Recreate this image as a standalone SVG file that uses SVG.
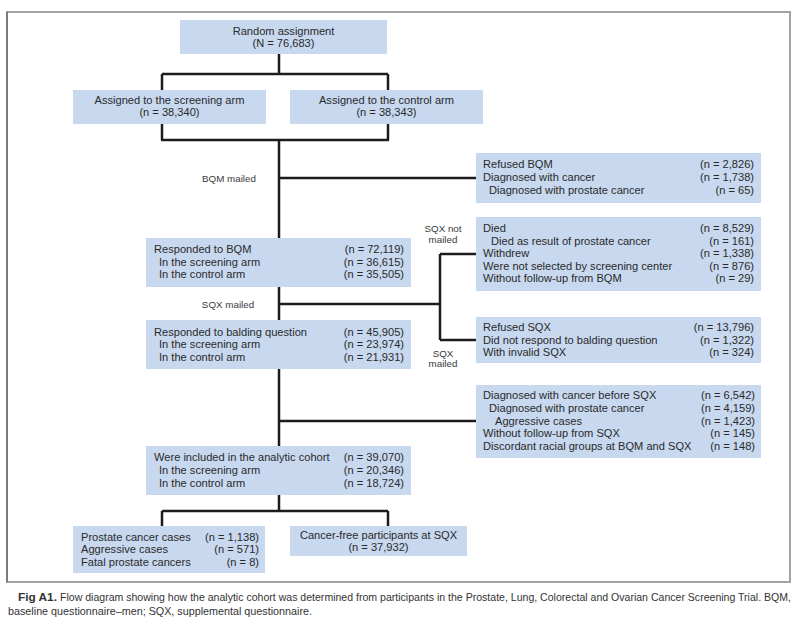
<svg xmlns="http://www.w3.org/2000/svg" width="806" height="626" viewBox="0 0 806 626">
<style>
.box{fill:#c7d8ef}
.t{font-family:"Liberation Sans",Arial,sans-serif;font-size:11.1px;fill:#2a2a2a}
.m{text-anchor:middle}
.e{text-anchor:end}
.lbl{font-family:"Liberation Sans",Arial,sans-serif;font-size:9.8px;fill:#3a3a3a;text-anchor:middle}
.ln{stroke:#1c1c1c;stroke-width:2.5;fill:none}
.cap{font-family:"Liberation Sans",Arial,sans-serif;font-size:10.5px;fill:#333}
</style>
<rect x="0" y="0" width="806" height="626" fill="#fff"/>
<rect x="7" y="12" width="783" height="570" fill="none" stroke="#a3a3a3" stroke-width="2"/>
<line x1="7" y1="12" x2="7" y2="582" stroke="#555" stroke-width="1"/>

<g id="connectors">
<path class="ln" d="M279 54V74M162 74H388M162 74V90M388 74V90"/>
<path class="ln" d="M162 124V140M388 124V140M161 140H389M279 140V238M279 178H476"/>
<path class="ln" d="M279 287V320M279 304H440M440 254V340M440 254H476M440 340H476"/>
<path class="ln" d="M279 369V446M279 421H476"/>
<path class="ln" d="M279 495V511M162 511H388M162 511V526M388 511V526"/>
</g>

<g id="random">
<rect class="box" x="180" y="20" width="207" height="34"/>
<text class="t m" x="283.5" y="35">Random assignment</text>
<text class="t m" x="283.5" y="47">(N = 76,683)</text>
</g>

<g id="screening">
<rect class="box" x="73" y="90" width="193" height="34"/>
<text class="t m" x="169.5" y="104">Assigned to the screening arm</text>
<text class="t m" x="169.5" y="116">(n = 38,340)</text>
</g>

<g id="control">
<rect class="box" x="290" y="90" width="193" height="34"/>
<text class="t m" x="386.5" y="104">Assigned to the control arm</text>
<text class="t m" x="386.5" y="116">(n = 38,343)</text>
</g>

<g id="lbl-bqm">
<text class="lbl" x="229" y="182">BQM mailed</text>
</g>

<g id="refused-bqm">
<rect class="box" x="476" y="153" width="285" height="50"/>
<text class="t" x="483" y="168">Refused BQM</text>
<text class="t" x="483" y="181">Diagnosed with cancer</text>
<text class="t" x="489" y="194">Diagnosed with prostate cancer</text>
<text class="t e" x="754" y="168">(n = 2,826)</text>
<text class="t e" x="754" y="181">(n = 1,738)</text>
<text class="t e" x="754" y="194">(n = 65)</text>
</g>

<g id="lbl-sqx-not">
<text class="lbl" x="443" y="232">SQX not</text>
<text class="lbl" x="443" y="243">mailed</text>
</g>

<g id="died">
<rect class="box" x="476" y="217" width="285" height="74"/>
<text class="t" x="483" y="232">Died</text>
<text class="t" x="491" y="245">Died as result of prostate cancer</text>
<text class="t" x="483" y="257">Withdrew</text>
<text class="t" x="483" y="270">Were not selected by screening center</text>
<text class="t" x="483" y="282">Without follow-up from BQM</text>
<text class="t e" x="754" y="232">(n = 8,529)</text>
<text class="t e" x="754" y="245">(n = 161)</text>
<text class="t e" x="754" y="257">(n = 1,338)</text>
<text class="t e" x="754" y="270">(n = 876)</text>
<text class="t e" x="754" y="282">(n = 29)</text>
</g>

<g id="responded-bqm">
<rect class="box" x="146" y="238" width="265" height="49"/>
<text class="t" x="154" y="253">Responded to BQM</text>
<text class="t" x="159" y="266">In the screening arm</text>
<text class="t" x="159" y="278">In the control arm</text>
<text class="t e" x="404" y="253">(n = 72,119)</text>
<text class="t e" x="404" y="266">(n = 36,615)</text>
<text class="t e" x="404" y="278">(n = 35,505)</text>
</g>

<g id="lbl-sqx">
<text class="lbl" x="228" y="308">SQX mailed</text>
</g>

<g id="lbl-sqx2">
<text class="lbl" x="443" y="357">SQX</text>
<text class="lbl" x="443" y="367">mailed</text>
</g>

<g id="responded-balding">
<rect class="box" x="146" y="320" width="265" height="49"/>
<text class="t" x="154" y="336">Responded to balding question</text>
<text class="t" x="159" y="348">In the screening arm</text>
<text class="t" x="159" y="361">In the control arm</text>
<text class="t e" x="404" y="336">(n = 45,905)</text>
<text class="t e" x="404" y="348">(n = 23,974)</text>
<text class="t e" x="404" y="361">(n = 21,931)</text>
</g>

<g id="refused-sqx">
<rect class="box" x="476" y="317" width="285" height="46"/>
<text class="t" x="483" y="331">Refused SQX</text>
<text class="t" x="483" y="344">Did not respond to balding question</text>
<text class="t" x="483" y="356">With invalid SQX</text>
<text class="t e" x="754" y="331">(n = 13,796)</text>
<text class="t e" x="754" y="344">(n = 1,322)</text>
<text class="t e" x="754" y="356">(n = 324)</text>
</g>

<g id="cancer-before">
<rect class="box" x="476" y="385" width="285" height="73"/>
<text class="t" x="483" y="399">Diagnosed with cancer before SQX</text>
<text class="t" x="489" y="412">Diagnosed with prostate cancer</text>
<text class="t" x="495" y="425">Aggressive cases</text>
<text class="t" x="483" y="437">Without follow-up from SQX</text>
<text class="t" x="483" y="450">Discordant racial groups at BQM and SQX</text>
<text class="t e" x="755" y="399">(n = 6,542)</text>
<text class="t e" x="755" y="412">(n = 4,159)</text>
<text class="t e" x="755" y="425">(n = 1,423)</text>
<text class="t e" x="755" y="437">(n = 145)</text>
<text class="t e" x="755" y="450">(n = 148)</text>
</g>

<g id="included">
<rect class="box" x="146" y="446" width="265" height="49"/>
<text class="t" x="154" y="461">Were included in the analytic cohort</text>
<text class="t" x="159" y="474">In the screening arm</text>
<text class="t" x="159" y="487">In the control arm</text>
<text class="t e" x="404" y="461">(n = 39,070)</text>
<text class="t e" x="404" y="474">(n = 20,346)</text>
<text class="t e" x="404" y="487">(n = 18,724)</text>
</g>

<g id="prostate-cases">
<rect class="box" x="73" y="526" width="192" height="47"/>
<text class="t" x="81" y="541">Prostate cancer cases</text>
<text class="t" x="81" y="553">Aggressive cases</text>
<text class="t" x="81" y="566">Fatal prostate cancers</text>
<text class="t e" x="259" y="541">(n = 1,138)</text>
<text class="t e" x="259" y="553">(n = 571)</text>
<text class="t e" x="259" y="566">(n = 8)</text>
</g>

<g id="cancer-free">
<rect class="box" x="290" y="526" width="177" height="30"/>
<text class="t m" x="378.5" y="539">Cancer-free participants at SQX</text>
<text class="t m" x="378.5" y="551">(n = 37,932)</text>
</g>

<g id="caption">
<text class="cap" x="18" y="601" font-weight="bold" textLength="39" lengthAdjust="spacingAndGlyphs">Fig A1.</text>
<text class="cap" x="60" y="601" textLength="731" lengthAdjust="spacingAndGlyphs">Flow diagram showing how the analytic cohort was determined from participants in the Prostate, Lung, Colorectal and Ovarian Cancer Screening Trial. BQM,</text>
<text class="cap" x="8" y="615" textLength="304" lengthAdjust="spacingAndGlyphs">baseline questionnaire–men; SQX, supplemental questionnaire.</text>
</g>
</svg>
